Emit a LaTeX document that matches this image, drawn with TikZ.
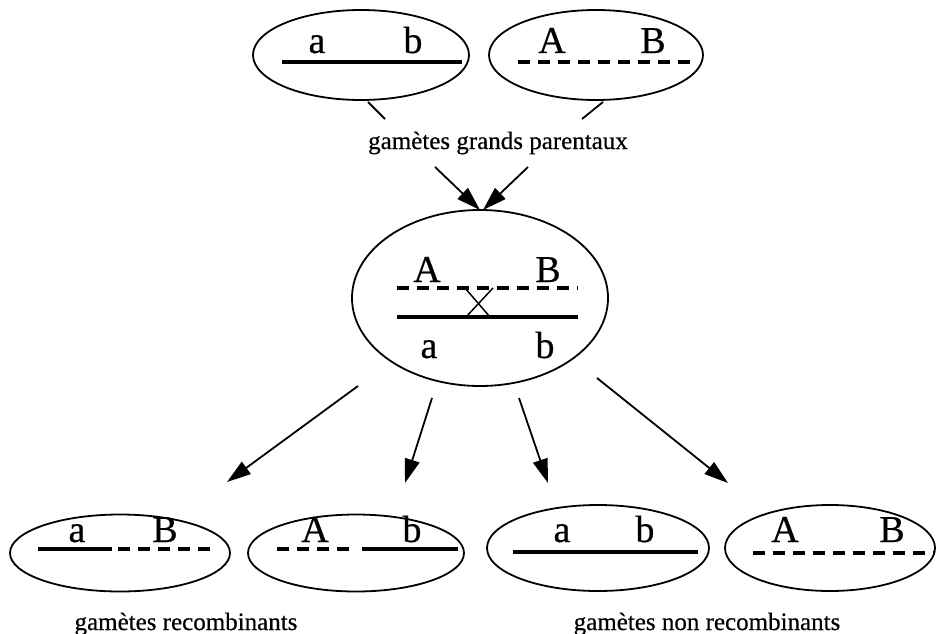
\documentclass[tikz,border=0pt]{standalone}
\usepackage{fontspec}
\setmainfont{Liberation Serif}
\newfontfamily\heavyserif{Liberation Serif}[FakeBold=0.5]
\usetikzlibrary{arrows.meta,shapes.geometric}
\begin{document}
\begin{tikzpicture}[x=1pt,y=-1pt,
  cell/.style={draw,ellipse,line width=1.8pt,inner sep=0pt},
  allele/.style={anchor=base,inner sep=0pt,font=\heavyserif\fontsize{38}{42}\selectfont},
  lbl/.style={anchor=base,inner sep=0pt,font=\heavyserif\fontsize{25}{30}\selectfont},
  solidchr/.style={line width=3.5pt},
  dashchr/.style={line width=3.5pt,dash pattern=on 12pt off 8pt},
  arr/.style={line width=1.8pt,-{Triangle[length=24pt,width=15pt]}},
  tick/.style={line width=1.8pt}]
\useasboundingbox (0,0) rectangle (937,634);
% top grandparental gametes
\node[cell,minimum width=216pt,minimum height=90pt] (p1) at (361,55) {};
\node[cell,minimum width=214pt,minimum height=90pt] (p2) at (596,55) {};
\node[allele] (p1a) at (317,53) {a};
\node[allele] (p1b) at (413,53) {b};
\node[allele] (p2a) at (552,53) {A};
\node[allele] (p2b) at (653,53) {B};
\draw[solidchr] (282,62) -- (462,62);
\draw[dashchr] (518,62) -- (693,62);
\node[lbl] (gp) at (498,149) {gamètes grands parentaux};
\coordinate (t1s) at (368,102); \coordinate (t1e) at (385,119);
\coordinate (t2s) at (603,102); \coordinate (t2e) at (582,119);
\draw[tick] (t1s) -- (t1e);
\draw[tick] (t2s) -- (t2e);
% middle heterozygote
\node[cell,minimum width=256pt,minimum height=176pt] (m) at (480,298) {};
\coordinate (g1) at (435,167); \coordinate (g2) at (528,167);
\coordinate (mt1) at (480,210); \coordinate (mt2) at (483,210);
\draw[arr] (g1) -- (mt1);
\draw[arr] (g2) -- (mt2);
\node[allele] (mA) at (427,282) {A};
\node[allele] (mB) at (548,282) {B};
\node[allele] (ma) at (429,358) {a};
\node[allele] (mb) at (545,358) {b};
\draw[dashchr] (397,288) -- (578,288);
\draw[solidchr] (397,317) -- (578,317);
\draw[line width=1.5pt] (465,288) -- (490,317);
\draw[line width=1.5pt] (493,288) -- (466,317);
% arrows to gametes
\coordinate (s1) at (358,386); \coordinate (e1t) at (227,482);
\coordinate (s2) at (432,398); \coordinate (e2t) at (405,483);
\coordinate (s3) at (519,398); \coordinate (e3t) at (548,483);
\coordinate (s4) at (597,378); \coordinate (e4t) at (728,483);
\draw[arr] (s1) -- (e1t);
\draw[arr] (s2) -- (e2t);
\draw[arr] (s3) -- (e3t);
\draw[arr] (s4) -- (e4t);
% bottom gametes
\node[cell,minimum width=220pt,minimum height=77pt] (e1) at (120,553) {};
\node[cell,minimum width=216pt,minimum height=77pt] (e2) at (356,553) {};
\node[cell,minimum width=222pt,minimum height=86pt] (e3) at (598,548) {};
\node[cell,minimum width=210pt,minimum height=86pt] (e4) at (830,548) {};
\node[allele] (e1a) at (77,542) {a};
\node[allele] (e1b) at (165,542) {B};
\node[allele] (e2a) at (315,542) {A};
\node[allele] (e2b) at (412,542) {b};
\node[allele] (e3a) at (562,542) {a};
\node[allele] (e3b) at (645,542) {b};
\node[allele] (e4a) at (785,542) {A};
\node[allele] (e4b) at (892,542) {B};
\draw[solidchr] (38,549) -- (112,549);
\draw[dashchr] (118,549) -- (215,549);
\draw[dashchr] (277,549) -- (356,549);
\draw[solidchr] (362,549) -- (458,549);
\draw[solidchr] (513,552) -- (698,552);
\draw[dashchr] (753,553) -- (935,553);
\node[lbl] (rec) at (186,630) {gamètes recombinants};
\node[lbl] (nrec) at (707,630) {gamètes non recombinants};
\end{tikzpicture}
\end{document}
